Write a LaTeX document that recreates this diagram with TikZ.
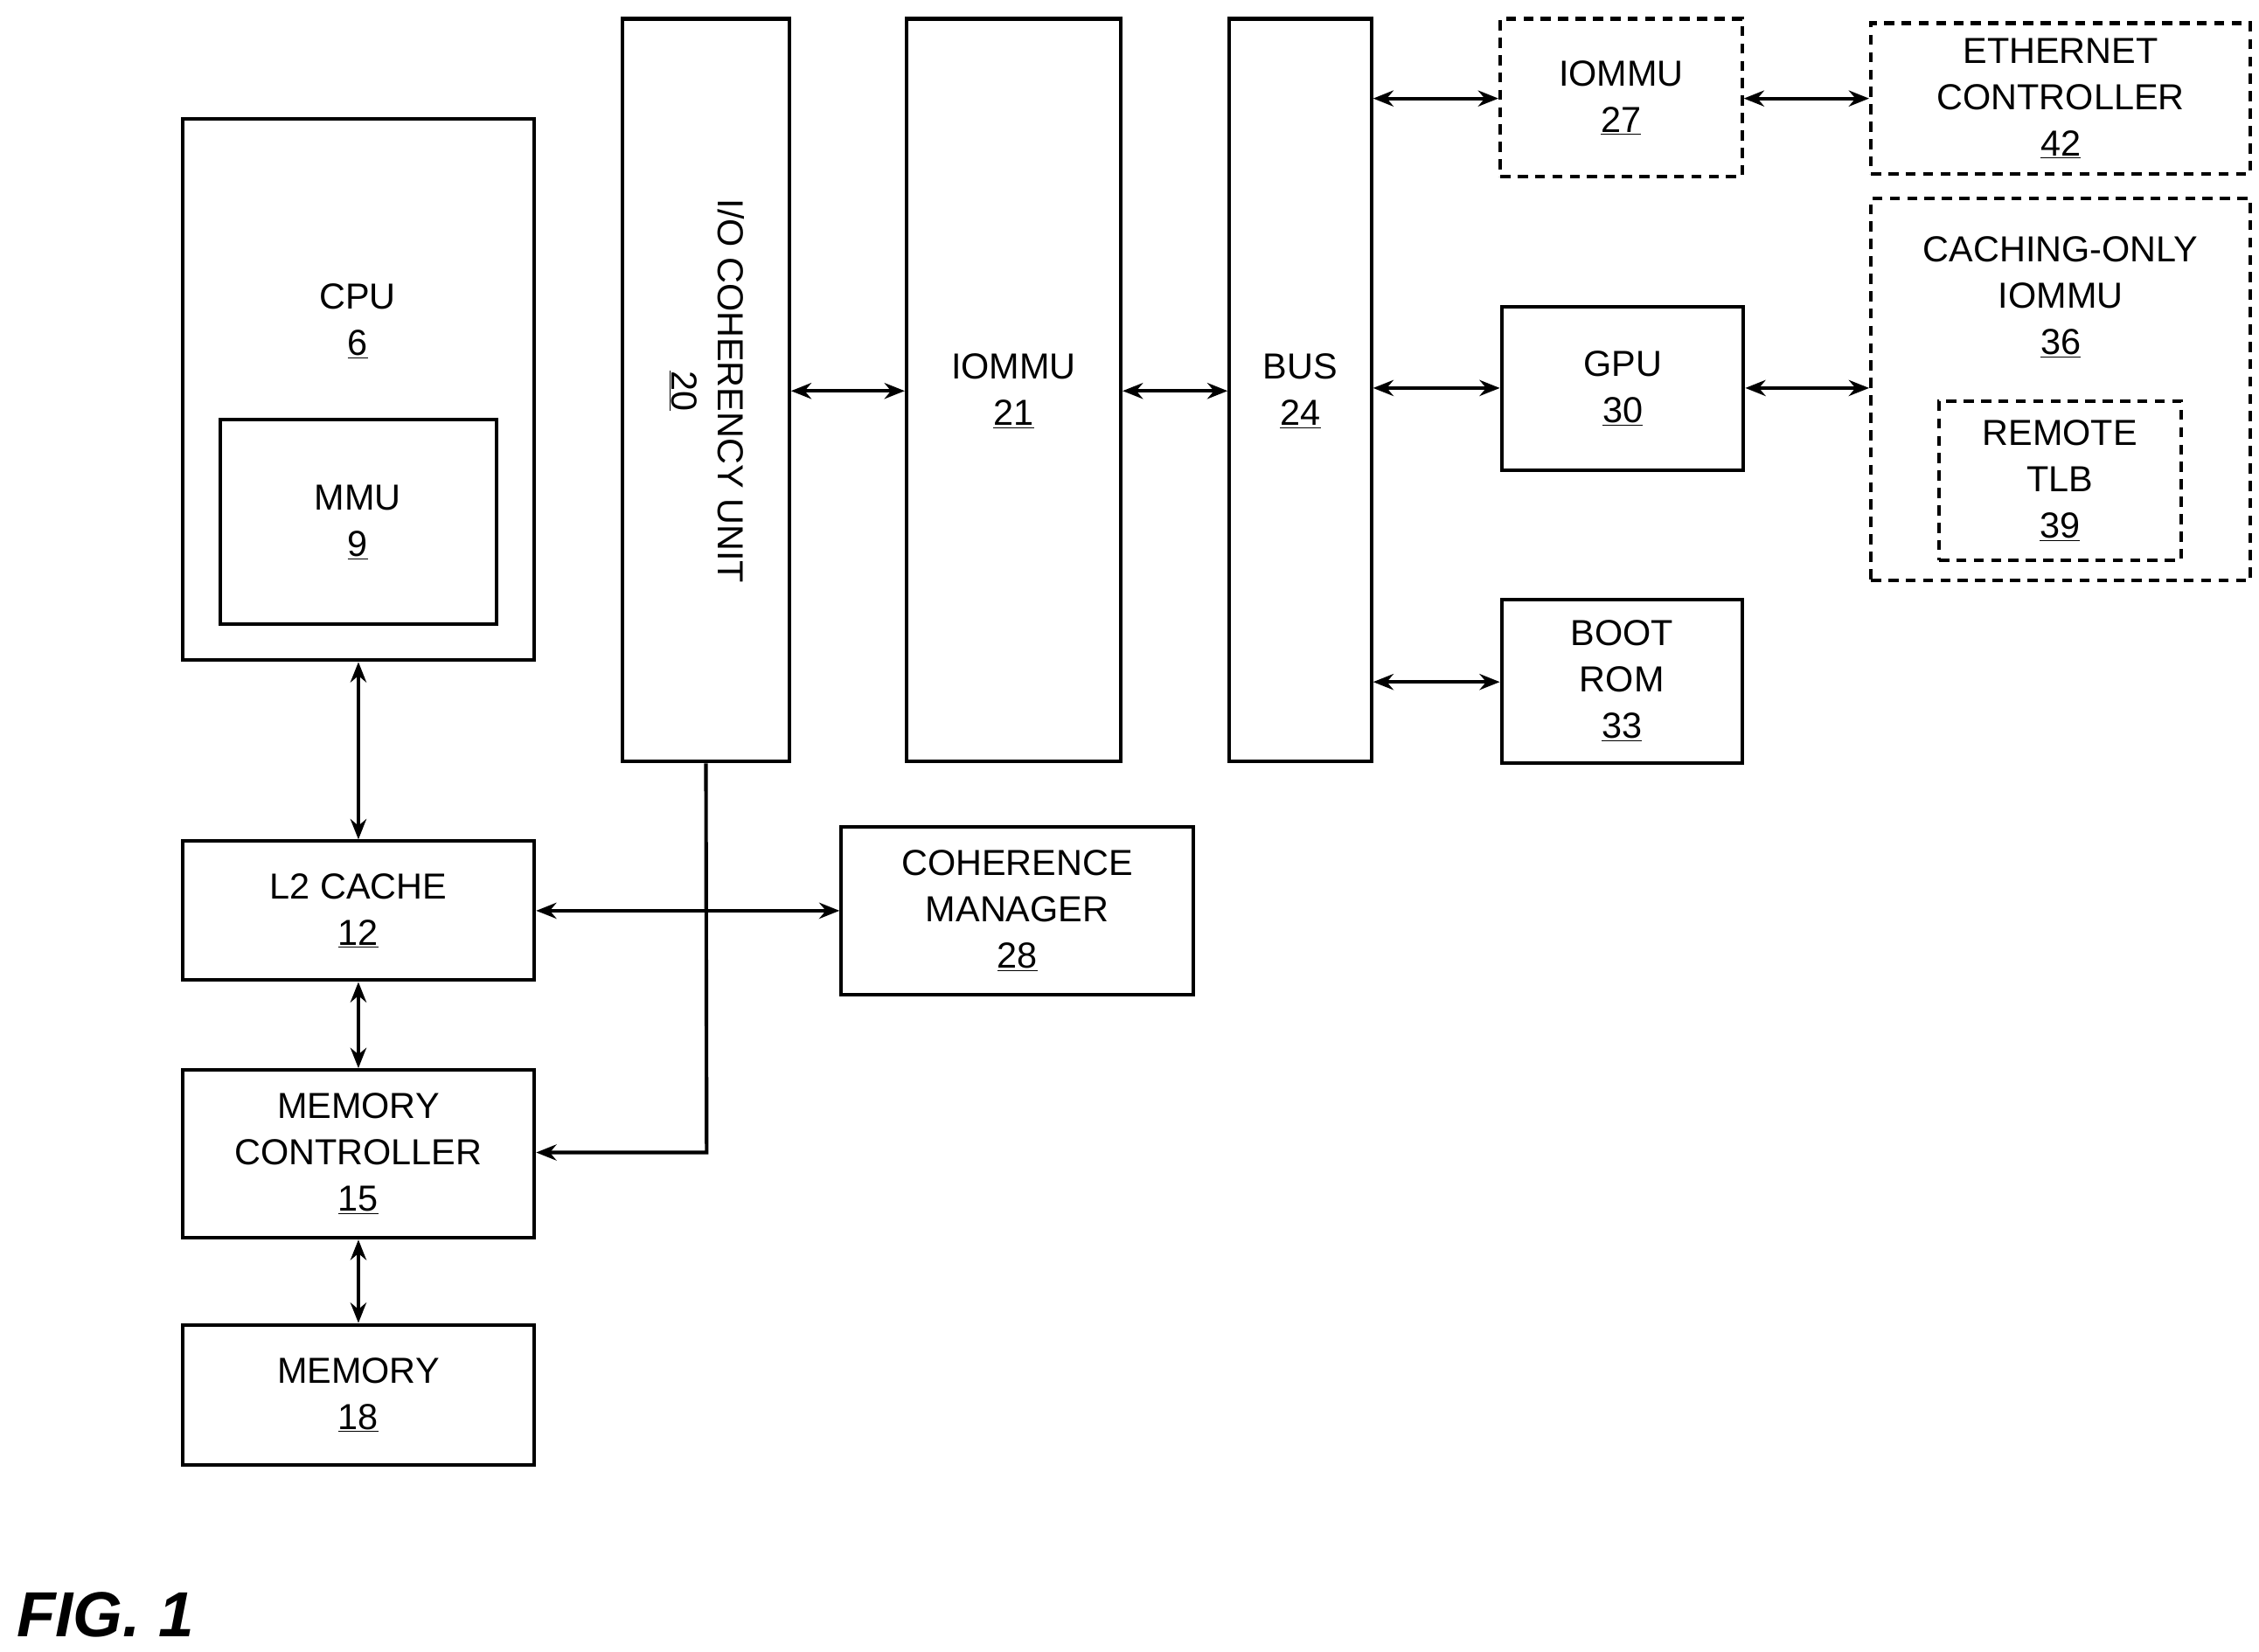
\documentclass[tikz,border=0pt]{standalone}
\usepackage{fontspec}
\setmainfont{Liberation Sans}
\usetikzlibrary{arrows.meta}
\begin{document}
\begin{tikzpicture}[x=1pt,y=-1pt,
  box/.style={draw,line width=2.5pt,inner sep=0pt},
  dbox/.style={box,dash pattern=on 7pt off 5pt},
  txt/.style={align=center,font=\fontsize{25}{32}\selectfont},
  arr/.style={line width=2.5pt,{Stealth[length=14pt,width=11pt]}-{Stealth[length=14pt,width=11pt]}},
  sarr/.style={line width=2.5pt,-{Stealth[length=14pt,width=11pt]}}]
\useasboundingbox (0,0) rectangle (1560,1141);
\newcommand{\bx}[6]{\node[#1,minimum width=#4-#2,minimum height=#5-#3] (#6) at ({(#2+#4)/2},{(#3+#5)/2}) {};}
\bx{box}{126}{82}{369}{456}{cpu}
\node[txt] (cput) at (247,222) {CPU\\\underline{6}};
\bx{box}{152}{290}{343}{431}{mmu}
\node[txt] (mmut) at (247,361) {MMU\\\underline{9}};
\bx{box}{126}{581}{369}{677}{l2}
\node[txt] at (l2) {L2 CACHE\\\underline{12}};
\bx{box}{126}{739}{369}{855}{mc}
\node[txt] at (mc) {MEMORY\\CONTROLLER\\\underline{15}};
\bx{box}{126}{915}{369}{1012}{mem}
\node[txt] at (mem) {MEMORY\\\underline{18}};
\bx{box}{430}{13}{545}{526}{iocu}
\node[txt,rotate=-90] (iocut) at (488,270) {I/O COHERENCY UNIT\\\underline{20}};
\bx{box}{626}{13}{774}{526}{iommu}
\node[txt] at (700,270) {IOMMU\\\underline{21}};
\bx{box}{849}{13}{947}{526}{bus}
\node[txt] at (898,270) {BUS\\\underline{24}};
\bx{dbox}{1036}{13}{1203}{122}{iom27}
\node[txt] at (iom27) {IOMMU\\\underline{27}};
\bx{dbox}{1292}{16}{1554}{120}{eth}
\node[txt] at (eth) {ETHERNET\\CONTROLLER\\\underline{42}};
\bx{dbox}{1292}{137}{1554}{401}{co}
\node[txt] (cot) at (1423,205) {CACHING-ONLY\\IOMMU\\\underline{36}};
\bx{dbox}{1339}{277}{1506}{387}{tlb}
\node[txt] at (tlb) {REMOTE\\TLB\\\underline{39}};
\bx{box}{1037}{212}{1204}{325}{gpu}
\node[txt] at (gpu) {GPU\\\underline{30}};
\bx{box}{1037}{414}{1203}{527}{rom}
\node[txt] at (rom) {BOOT\\ROM\\\underline{33}};
\bx{box}{581}{571}{824}{687}{cm}
\node[txt] at (cm) {COHERENCE\\MANAGER\\\underline{28}};
\node[font=\fontsize{44}{50}\selectfont\bfseries\itshape,anchor=west] (fig) at (8,1115) {FIG. 1};
\draw[arr] (cpu.south) -- (l2.north);
\draw[arr] (l2.south) -- (mc.north);
\draw[arr] (mc.south) -- (mem.north);
\draw[arr] (l2.east) -- (cm.west);
\draw[sarr] (iocu.south) -- (488,796) -- (mc.east|-0,796);
\draw[arr] (iocu.east|-0,270) -- (iommu.west|-0,270);
\draw[arr] (iommu.east|-0,270) -- (bus.west|-0,270);
\draw[arr] (bus.east|-0,68) -- (iom27.west|-0,68);
\draw[arr] (iom27.east|-0,68) -- (eth.west|-0,68);
\draw[arr] (bus.east|-0,268) -- (gpu.west|-0,268);
\draw[arr] (gpu.east|-0,268) -- (co.west|-0,268);
\draw[arr] (bus.east|-0,471) -- (rom.west|-0,471);
\end{tikzpicture}
\end{document}
